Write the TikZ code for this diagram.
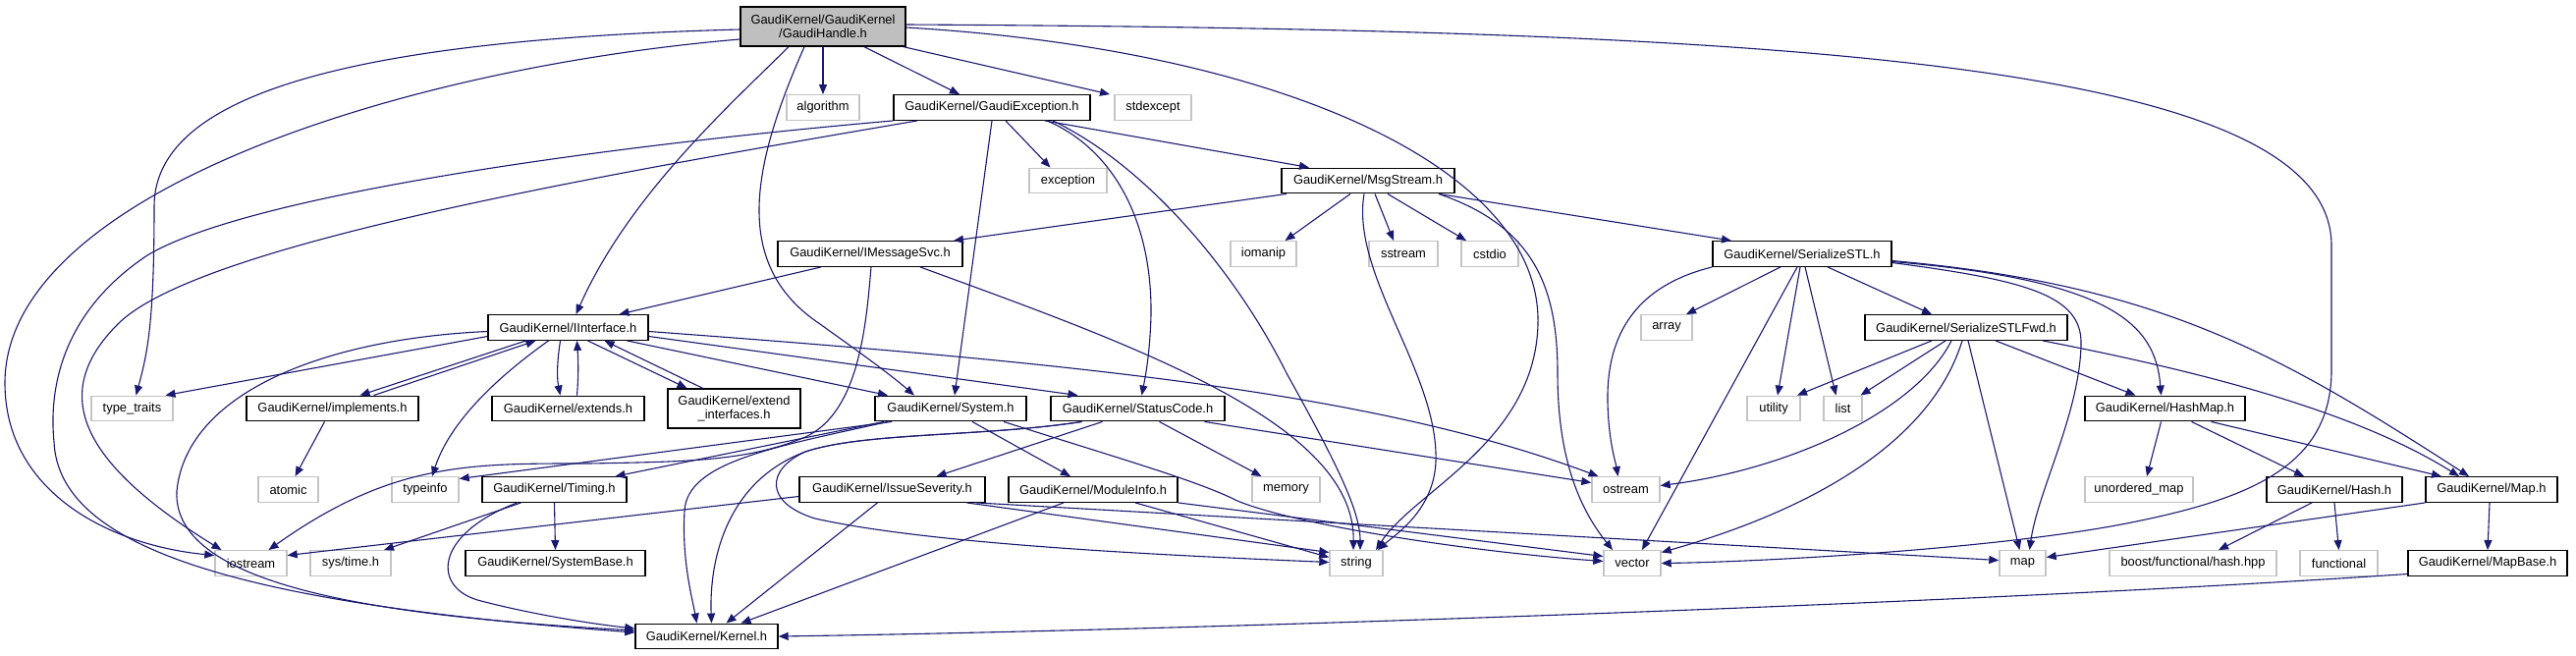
\documentclass[tikz,border=0pt]{standalone}
\usepackage{fontspec}
\setmainfont{Liberation Sans}
\usetikzlibrary{arrows.meta}
\definecolor{edgec}{HTML}{191970}
\definecolor{rootfill}{HTML}{BFBFBF}
\definecolor{sysline}{HTML}{C4C4C4}
\begin{document}
\begin{tikzpicture}[x=1pt,y=-1pt,
  every node/.style={font=\fontsize{12.9pt}{14pt}\selectfont, inner sep=0pt, minimum height=25.5pt, text=black},
  hdr/.style={draw=black, line width=1.4pt, fill=white},
  sysh/.style={draw=sysline, line width=1.4pt, fill=white},
  root/.style={draw=black, line width=1.4pt, fill=rootfill, minimum height=40pt, align=center},
  e/.style={draw=edgec, line width=1.1pt, -{Triangle[length=10pt,width=8pt]}}]
\fill[white] (0,0) rectangle (2623,667);
\useasboundingbox (0,0) rectangle (2623,667);
% ---------- nodes ----------
\node[root, minimum width=168pt] (GH) at (838,27) {GaudiKernel/GaudiKernel\\/GaudiHandle.h};
\node[sysh, minimum width=74pt] (algorithm) at (838,109.5) {algorithm};
\node[hdr, minimum width=200pt] (GE) at (1010,109.5) {GaudiKernel/GaudiException.h};
\node[sysh, minimum width=78pt] (stdexcept) at (1174,109.5) {stdexcept};
\node[sysh, minimum width=79pt] (exception) at (1087.5,184) {exception};
\node[hdr, minimum width=176pt] (MS) at (1393,184) {GaudiKernel/MsgStream.h};
\node[hdr, minimum width=188pt] (IMS) at (886,258.5) {GaudiKernel/IMessageSvc.h};
\node[sysh, minimum width=67pt] (iomanip) at (1286.5,258.5) {iomanip};
\node[sysh, minimum width=70pt] (sstream) at (1429,258.5) {sstream};
\node[sysh, minimum width=58pt] (cstdio) at (1517,258.5) {cstdio};
\node[hdr, minimum width=182pt] (SSTL) at (1835,258.5) {GaudiKernel/SerializeSTL.h};
\node[hdr, minimum width=163pt] (II) at (578.5,333.5) {GaudiKernel/IInterface.h};
\node[sysh, minimum width=52pt] (array) at (1697,333.5) {array};
\node[hdr, minimum width=206pt] (SFWD) at (2002,333.5) {GaudiKernel/SerializeSTLFwd.h};
\node[sysh, minimum width=83pt] (typetraits) at (134.5,416) {type\_traits};
\node[hdr, minimum width=175pt] (impl) at (338.5,416) {GaudiKernel/implements.h};
\node[hdr, minimum width=155pt] (ext) at (578.5,416) {GaudiKernel/extends.h};
\node[hdr, minimum width=135pt, minimum height=40pt, align=center] (extif) at (747.5,416) {GaudiKernel/extend\\\_interfaces.h};
\node[hdr, minimum width=154pt] (Sys) at (968,416) {GaudiKernel/System.h};
\node[hdr, minimum width=177pt] (SC) at (1158.5,416) {GaudiKernel/StatusCode.h};
\node[sysh, minimum width=54pt] (utility) at (1806,416) {utility};
\node[sysh, minimum width=39pt] (list) at (1876.5,416) {list};
\node[hdr, minimum width=163pt] (HM) at (2204.5,416) {GaudiKernel/HashMap.h};
\node[sysh, minimum width=61pt] (atomic) at (293.5,498.5) {atomic};
\node[sysh, minimum width=68pt] (typeinfo) at (433,498.5) {typeinfo};
\node[hdr, minimum width=147pt] (Timing) at (564.5,498.5) {GaudiKernel/Timing.h};
\node[hdr, minimum width=189pt] (IS) at (908.5,498.5) {GaudiKernel/IssueSeverity.h};
\node[hdr, minimum width=172pt] (MI) at (1113,498.5) {GaudiKernel/ModuleInfo.h};
\node[sysh, minimum width=69pt] (memory) at (1309.5,498.5) {memory};
\node[sysh, minimum width=69pt] (ostream) at (1655.5,498.5) {ostream};
\node[sysh, minimum width=110pt] (unorderedmap) at (2178,498.5) {unordered\_map};
\node[hdr, minimum width=138pt] (Hash) at (2377,498.5) {GaudiKernel/Hash.h};
\node[hdr, minimum width=134pt] (Map) at (2537,498.5) {GaudiKernel/Map.h};
\node[sysh, minimum width=73pt] (iostream) at (255.5,573.5) {iostream};
\node[sysh, minimum width=82pt] (systime) at (357,573.5) {sys/time.h};
\node[hdr, minimum width=183pt] (SB) at (565.5,573.5) {GaudiKernel/SystemBase.h};
\node[sysh, minimum width=54pt] (string) at (1381,573.5) {string};
\node[sysh, minimum width=58pt] (vector) at (1662,573.5) {vector};
\node[sysh, minimum width=47pt] (map) at (2059.5,573.5) {map};
\node[sysh, minimum width=170pt] (boosthash) at (2233,573.5) {boost/functional/hash.hpp};
\node[sysh, minimum width=79pt] (functional) at (2381.5,573.5) {functional};
\node[hdr, minimum width=162pt] (MB) at (2533,573.5) {GaudiKernel/MapBase.h};
\node[hdr, minimum width=145pt] (Kernel) at (719.5,648) {GaudiKernel/Kernel.h};
% ---------- GaudiHandle.h ----------
\draw[e] (GH.south) -- (algorithm.north);
\draw[e] ([xshift=42pt]GH.south) -- ([xshift=-33pt]GE.north);
\draw[e] ([xshift=82pt]GH.south) -- ([xshift=-44pt]stdexcept.north);
\draw[e] ([xshift=-35pt]GH.south) .. controls (740,110) and (640,200) .. ([xshift=8pt]II.north);
\draw[e] ([xshift=-19pt]GH.south) .. controls (765,170) and (745,270) .. (835,330) .. controls (870,355) and (905,380) .. ([xshift=-37pt]Sys.north);
\draw[e] ([yshift=-3pt]GH.west) .. controls (380,40) and (157,90) .. (157,210) .. controls (157,330) and (150,360) .. ([xshift=4pt]typetraits.north);
\draw[e] ([yshift=-13pt]GH.west) .. controls (400,70) and (5,200) .. (5,390) .. controls (5,500) and (110,555) .. ([yshift=8pt]iostream.west);
\draw[e] ([yshift=-1pt]GH.east) .. controls (1300,50) and (1570,170) .. (1566,330) .. controls (1563,450) and (1440,500) .. ([xshift=20pt]string.north);
\draw[e] ([yshift=2pt]GH.east) .. controls (1800,30) and (2374,60) .. (2374,250) -- (2374,380) .. controls (2372,470) and (2300,505) .. (2180,530) .. controls (2050,558) and (1800,572) .. (vector.east);
% ---------- GaudiException.h ----------
\draw[e] ([xshift=14pt]GE.south) -- ([xshift=-18pt]exception.north);
\draw[e] ([xshift=54pt]GE.south) -- ([xshift=-60pt]MS.north);
\draw[e] (GE.south) -- ([xshift=4pt]Sys.north);
\draw[e] ([xshift=56pt]GE.south) .. controls (1130,150) and (1173,220) .. (1172,320) .. controls (1171,360) and (1166,385) .. ([xshift=4pt]SC.north);
\draw[e] ([xshift=62pt]GE.south) .. controls (1170,170) and (1260,280) .. (1310,380) .. controls (1360,470) and (1385,520) .. ([xshift=4pt]string.north);
\draw[e] (GE.south west) .. controls (600,150) and (250,200) .. (150,260) .. controls (60,320) and (50,400) .. (55,450) .. controls (60,560) and (250,615) .. ([yshift=4pt]Kernel.west);
\draw[e] ([xshift=-76pt]GE.south) .. controls (600,180) and (200,250) .. (120,330) .. controls (50,400) and (80,470) .. ([xshift=-30pt]iostream.north);
% ---------- MsgStream.h ----------
\draw[e] ([xshift=-83pt]MS.south) -- ([xshift=85pt]IMS.north);
\draw[e] ([xshift=-18pt]MS.south) -- ([xshift=22pt]iomanip.north);
\draw[e] ([xshift=7pt]MS.south) -- ([xshift=-10pt]sstream.north);
\draw[e] ([xshift=20pt]MS.south) -- ([xshift=-24pt]cstdio.north);
\draw[e] ([xshift=-4pt]MS.south) .. controls (1375,280) and (1465,380) .. (1462,470) .. controls (1460,520) and (1420,545) .. ([xshift=22pt]string.north);
\draw[e] ([xshift=72pt]MS.south) .. controls (1560,230) and (1586,290) .. (1586,380) .. controls (1586,470) and (1610,520) .. ([xshift=-20pt]vector.north);
\draw[e] ([xshift=72pt]MS.south) -- ([xshift=-72pt]SSTL.north);
% ---------- IMessageSvc.h ----------
\draw[e] ([xshift=-50pt]IMS.south) -- ([xshift=52pt]II.north);
\draw[e] ([xshift=1pt]IMS.south) .. controls (882,330) and (875,420) .. (820,445) .. controls (760,470) and (700,470) .. (600,472) .. controls (480,472) and (400,470) .. ([xshift=18pt]iostream.north);
\draw[e] ([xshift=51pt]IMS.south) .. controls (1150,350) and (1380,430) .. ([xshift=-3pt]string.north);
% ---------- IInterface.h ----------
\draw[e] ([yshift=-9pt]II.west) -- ([xshift=34pt]typetraits.north);
\draw[e] ([yshift=-4pt]II.west) .. controls (330,345) and (190,400) .. (180,500) .. controls (175,600) and (400,628) .. ([yshift=6pt]Kernel.west);
\draw[e] ([xshift=-43pt]II.south) -- ([xshift=28pt]impl.north);
\draw[e] ([xshift=42pt]impl.north) -- ([xshift=-33pt]II.south);
\draw[e] ([xshift=-8pt]II.south) .. controls (567,370) and (567,385) .. ([xshift=-8pt]ext.north);
\draw[e] ([xshift=9pt]ext.north) .. controls (589,385) and (589,370) .. ([xshift=9pt]II.south);
\draw[e] ([xshift=20pt]II.south) -- ([xshift=-48pt]extif.north);
\draw[e] ([xshift=-32pt]extif.north) -- ([xshift=37pt]II.south);
\draw[e] ([xshift=-20pt]II.south) .. controls (505,385) and (458,430) .. ([xshift=7pt]typeinfo.north);
\draw[e] ([xshift=60pt]II.south) -- ([xshift=-64pt]Sys.north);
\draw[e] ([yshift=-9pt]II.east) -- ([xshift=-61pt]SC.north);
\draw[e] ([yshift=-4pt]II.east) .. controls (1100,370) and (1400,400) .. ([xshift=-28pt]ostream.north);
% ---------- implements.h ----------
\draw[e] ([xshift=-8pt]impl.south) -- ([xshift=7pt]atomic.north);
% ---------- System.h ----------
\draw[e] ([xshift=-60pt]Sys.south) -- ([yshift=11pt]typeinfo.east);
\draw[e] ([xshift=-68pt]Sys.south) -- ([xshift=62pt]Timing.north);
\draw[e] ([xshift=-64pt]Sys.south) .. controls (790,455) and (700,470) .. (697,520) .. controls (694,570) and (705,610) .. ([xshift=-10pt]Kernel.north);
\draw[e] ([xshift=22pt]Sys.south) -- ([xshift=-23pt]MI.north);
\draw[e] ([xshift=54pt]Sys.south) .. controls (1150,470) and (1220,490) .. (1260,510) .. controls (1320,535) and (1500,562) .. ([yshift=2pt]vector.west);
% ---------- StatusCode.h ----------
\draw[e] ([xshift=-36pt]SC.south) -- ([xshift=45pt]IS.north);
\draw[e] ([xshift=22pt]SC.south) -- ([xshift=-25pt]memory.north);
\draw[e] ([xshift=68pt]SC.south) -- ([yshift=7pt]ostream.west);
\draw[e] ([xshift=-57pt]SC.south) .. controls (1000,445) and (880,440) .. (820,460) .. controls (740,490) and (722,570) .. ([xshift=5pt]Kernel.north);
\draw[e] ([xshift=-57pt]SC.south) .. controls (1000,445) and (880,440) .. (820,460) .. controls (780,478) and (778,512) .. (830,528) .. controls (950,555) and (1200,566) .. ([yshift=1pt]string.west);
% ---------- IssueSeverity.h ----------
\draw[e] ([yshift=-7pt]IS.west) -- ([yshift=8pt]iostream.east);
\draw[e] ([xshift=-15pt]IS.south) -- ([xshift=20pt]Kernel.north);
\draw[e] ([xshift=76pt]IS.south) -- ([yshift=11pt]string.west);
\draw[e] ([xshift=86pt]IS.south) -- ([yshift=3pt]map.west);
% ---------- ModuleInfo.h ----------
\draw[e] ([xshift=-30pt]MI.south) -- ([xshift=35pt]Kernel.north);
\draw[e] ([xshift=43pt]MI.south) -- ([yshift=6pt]string.west);
\draw[e] (MI.south east) -- ([yshift=7pt]vector.west);
% ---------- Timing.h ----------
\draw[e] ([xshift=-34pt]Timing.south) -- ([xshift=34pt]systime.north);
\draw[e] (Timing.south) -- (SB.north);
\draw[e] ([xshift=-38pt]Timing.south) .. controls (440,545) and (440,600) .. (490,612) .. controls (540,625) and (600,635) .. ([yshift=8pt]Kernel.west);
% ---------- SerializeSTL.h ----------
\draw[e] ([xshift=-22pt]SSTL.south) -- ([xshift=20pt]array.north);
\draw[e] (SSTL.south west) .. controls (1650,295) and (1636,360) .. (1637,410) .. controls (1638,450) and (1645,470) .. ([xshift=-8pt]ostream.north);
\draw[e] ([xshift=-5pt]SSTL.south) -- ([xshift=10pt]vector.north);
\draw[e] ([xshift=-2pt]SSTL.south) -- ([xshift=4pt]utility.north);
\draw[e] ([xshift=3pt]SSTL.south) -- ([xshift=-7pt]list.north);
\draw[e] ([xshift=26pt]SSTL.south) -- ([xshift=-35pt]SFWD.north);
\draw[e] ([yshift=-9pt]SSTL.east) .. controls (2060,285) and (2120,300) .. (2119,350) .. controls (2118,420) and (2075,500) .. ([xshift=7pt]map.north);
\draw[e] ([yshift=-8pt]SSTL.east) .. controls (2150,285) and (2195,330) .. ([xshift=-4pt]HM.north);
\draw[e] ([yshift=-7pt]SSTL.east) .. controls (2200,290) and (2320,360) .. ([xshift=-23pt]Map.north);
% ---------- SerializeSTLFwd.h ----------
\draw[e] ([xshift=-35pt]SFWD.south) -- ([xshift=24pt]utility.north);
\draw[e] ([xshift=-21pt]SFWD.south) -- ([xshift=18pt]list.north);
\draw[e] ([xshift=-15pt]SFWD.south) .. controls (1950,420) and (1820,478) .. ([yshift=4pt]ostream.east);
\draw[e] ([xshift=-4pt]SFWD.south) .. controls (1960,470) and (1800,532) .. ([yshift=11pt]vector.east);
\draw[e] ([xshift=2pt]SFWD.south) -- ([xshift=-3pt]map.north);
\draw[e] ([xshift=30pt]SFWD.south) -- ([xshift=-30pt]HM.north);
\draw[e] ([xshift=78pt]SFWD.south) .. controls (2250,380) and (2400,420) .. ([xshift=-33pt]Map.north);
% ---------- HashMap.h / Hash.h / Map.h / MapBase.h ----------
\draw[e] ([xshift=-4pt]HM.south) -- ([xshift=8pt]unorderedmap.north);
\draw[e] ([xshift=27pt]HM.south) -- ([xshift=-31pt]Hash.north);
\draw[e] ([xshift=47pt]HM.south) -- ([xshift=-51pt]Map.north);
\draw[e] ([xshift=-23pt]Hash.south) -- ([xshift=26pt]boosthash.north);
\draw[e] (Hash.south) -- (functional.north);
\draw[e] (Map.south west) -- ([yshift=6pt]map.east);
\draw[e] ([xshift=-2pt]Map.south) -- (MB.north);
\draw[e] ([yshift=-11pt]MB.west) .. controls (2000,615) and (1200,642) .. (Kernel.east);
\end{tikzpicture}
\end{document}
